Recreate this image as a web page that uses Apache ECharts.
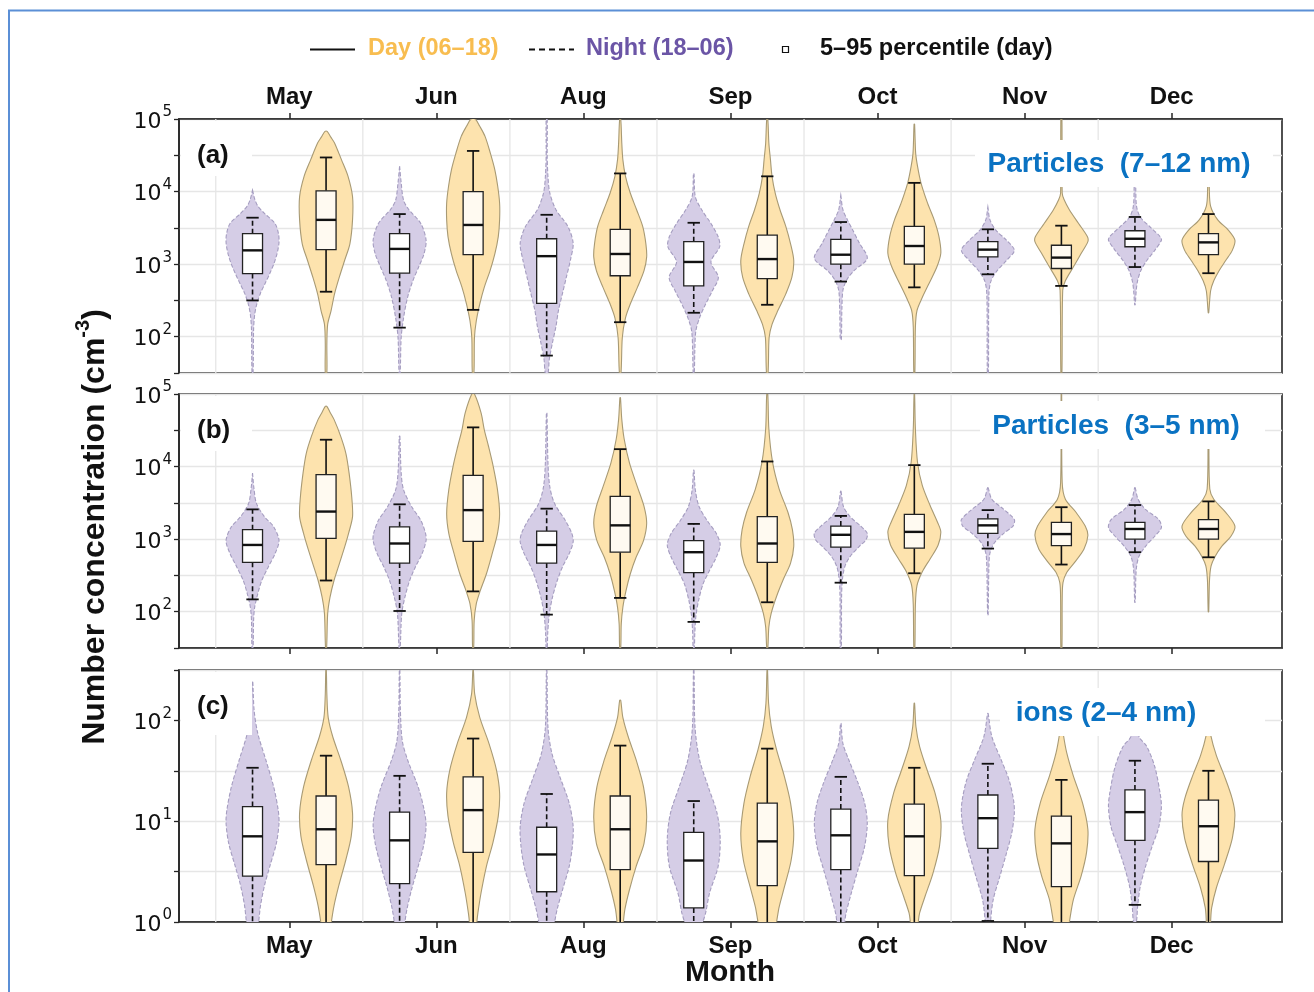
<!DOCTYPE html>
<html><head><meta charset="utf-8">
<script src="https://cdn.jsdelivr.net/npm/echarts@6/dist/echarts.min.js"></script>
<style>html,body{margin:0;padding:0;background:#fff}#c{width:1314px;height:992px}</style>
</head><body><div id="c"></div>
<script>
// ---------------- DATA (values are log10 of number concentration, cm^-3) ----------------
const months = ['May', 'Jun', 'Aug', 'Sep', 'Oct', 'Nov', 'Dec'];
const panelLetters = ['(a)', '(b)', '(c)'];
const panelTitles = ['Particles  (7\u201312 nm)', 'Particles  (3\u20135 nm)', 'ions (2\u20134 nm)'];
const yRangeA = [1.5, 5];
const yRangeB = [1.5, 5];
const yRangeC = [0, 2.5];

// box stats per month: [p5, q1, median, q3, p95]
const boxA_night = [[2.50,2.87,3.19,3.42,3.64],[2.125,2.875,3.21,3.42,3.69],[1.74,2.46,3.11,3.35,3.68],[2.33,2.70,3.03,3.31,3.57],[2.76,3.00,3.13,3.34,3.58],[2.86,3.10,3.20,3.31,3.48],[2.96,3.24,3.35,3.46,3.65]];
const boxA_day   = [[2.62,3.20,3.61,4.01,4.47],[2.37,3.13,3.54,4.00,4.56],[2.20,2.84,3.14,3.48,4.25],[2.44,2.80,3.07,3.40,4.21],[2.68,3.00,3.25,3.52,4.12],[2.70,2.94,3.09,3.26,3.53],[2.875,3.13,3.30,3.42,3.69]];
const boxB_night = [[2.17,2.68,2.92,3.13,3.41],[2.01,2.67,2.94,3.17,3.48],[1.96,2.67,2.92,3.11,3.42],[1.86,2.54,2.82,2.98,3.21],[2.40,2.89,3.06,3.18,3.32],[2.87,3.08,3.19,3.28,3.40],[2.82,3.00,3.14,3.23,3.47]];
const boxB_day   = [[2.43,3.01,3.38,3.89,4.37],[2.28,2.97,3.40,3.88,4.54],[2.19,2.82,3.19,3.59,4.24],[2.13,2.68,2.94,3.31,4.07],[2.53,2.875,3.10,3.34,4.02],[2.65,2.91,3.07,3.23,3.44],[2.75,3.00,3.14,3.27,3.52]];
const boxC_night = [[-0.2,0.455,0.85,1.145,1.53],[-0.2,0.38,0.81,1.09,1.45],[-0.2,0.30,0.67,0.94,1.27],[-0.2,0.14,0.61,0.89,1.20],[-0.2,0.52,0.86,1.12,1.44],[0.01,0.73,1.03,1.26,1.57],[0.17,0.81,1.09,1.31,1.60]];
const boxC_day   = [[-0.2,0.57,0.92,1.25,1.65],[-0.2,0.69,1.11,1.44,1.82],[-0.2,0.52,0.92,1.25,1.75],[-0.2,0.36,0.80,1.18,1.72],[-0.2,0.46,0.85,1.17,1.53],[-0.2,0.35,0.78,1.05,1.41],[-0.2,0.60,0.95,1.21,1.50]];

// violin profiles per month: [log10 value, relative density width], top to bottom
const violinA_night = [
 [[4.02,0],[3.90,0.08],[3.80,0.2],[3.70,0.45],[3.56,0.85],[3.42,0.98],[3.30,1.0],[3.15,0.93],[3.00,0.8],[2.87,0.65],[2.73,0.47],[2.60,0.3],[2.45,0.16],[2.30,0.08],[2.10,0.04],[1.5,0.02]],
 [[4.35,0],[4.12,0.06],[3.88,0.15],[3.75,0.35],[3.56,0.8],[3.33,1.0],[3.14,0.92],[2.96,0.72],[2.77,0.5],[2.54,0.3],[2.26,0.15],[1.99,0.06],[1.5,0.02]],
 [[5.0,0.02],[4.5,0.02],[4.2,0.05],[3.98,0.12],[3.75,0.35],[3.52,0.8],[3.29,1.0],[3.06,0.9],[2.83,0.75],[2.60,0.6],[2.37,0.45],[2.14,0.35],[1.92,0.22],[1.69,0.1],[1.5,0.05]],
 [[4.25,0.01],[3.93,0.06],[3.75,0.3],[3.56,0.65],[3.38,0.92],[3.24,0.98],[3.03,0.65],[2.82,0.93],[2.63,0.7],[2.45,0.45],[2.26,0.22],[2.08,0.08],[1.80,0.04],[1.5,0.02]],
 [[3.95,0],[3.75,0.08],[3.61,0.25],[3.47,0.45],[3.29,0.7],[3.08,1.0],[2.91,0.5],[2.78,0.22],[2.64,0.08],[2.36,0.04],[1.96,0.02]],
 [[3.79,0],[3.61,0.08],[3.47,0.3],[3.33,0.7],[3.19,1.0],[3.05,0.7],[2.91,0.35],[2.77,0.12],[2.59,0.04],[1.5,0.02]],
 [[4.3,0.01],[4.06,0.03],[3.80,0.06],[3.65,0.2],[3.52,0.55],[3.38,0.95],[3.33,1.0],[3.19,0.75],[3.05,0.45],[2.91,0.22],[2.77,0.1],[2.64,0.05],[2.44,0.01]]
];
const violinA_day = [
 [[4.83,0.04],[4.75,0.18],[4.67,0.32],[4.44,0.58],[4.21,0.83],[3.93,1.0],[3.61,1.0],[3.28,0.9],[3.05,0.7],[2.82,0.5],[2.59,0.32],[2.36,0.19],[2.17,0.06],[1.9,0.03],[1.5,0.03]],
 [[5.0,0.08],[4.9,0.25],[4.76,0.45],[4.53,0.65],[4.30,0.82],[4.07,0.93],[3.84,1.0],[3.61,1.0],[3.38,0.95],[3.14,0.82],[2.91,0.64],[2.68,0.42],[2.45,0.25],[2.22,0.12],[1.99,0.05],[1.5,0.03]],
 [[5.0,0.02],[4.67,0.06],[4.44,0.1],[4.21,0.2],[3.98,0.38],[3.75,0.62],[3.52,0.85],[3.28,0.97],[3.10,1.0],[2.91,0.9],[2.68,0.65],[2.45,0.38],[2.26,0.2],[1.99,0.08],[1.5,0.03]],
 [[5.0,0.02],[4.67,0.06],[4.44,0.12],[4.21,0.18],[3.98,0.3],[3.75,0.48],[3.52,0.7],[3.28,0.88],[3.05,1.0],[2.82,0.93],[2.59,0.7],[2.36,0.4],[2.17,0.18],[1.99,0.07],[1.5,0.03]],
 [[4.93,0.01],[4.53,0.05],[4.35,0.12],[4.12,0.25],[3.84,0.5],[3.61,0.75],[3.38,0.93],[3.15,1.0],[2.96,0.85],[2.73,0.55],[2.54,0.3],[2.36,0.1],[2.13,0.04],[1.5,0.02]],
 [[5.0,0.02],[3.98,0.03],[3.89,0.1],[3.75,0.3],[3.56,0.65],[3.38,0.98],[3.31,1.0],[3.15,0.75],[2.96,0.45],[2.77,0.15],[2.64,0.05],[1.5,0.02]],
 [[4.3,0.01],[4.06,0.03],[3.80,0.08],[3.61,0.35],[3.47,0.75],[3.33,1.0],[3.19,0.9],[3.05,0.65],[2.91,0.4],[2.77,0.2],[2.63,0.08],[2.33,0.01]]
];
const violinB_night = [
 [[3.91,0],[3.68,0.06],[3.49,0.15],[3.31,0.45],[3.17,0.8],[2.98,1.0],[2.80,0.85],[2.62,0.6],[2.43,0.35],[2.25,0.2],[2.06,0.08],[1.88,0.04],[1.5,0.02]],
 [[4.42,0.01],[3.91,0.06],[3.68,0.15],[3.45,0.45],[3.26,0.8],[3.08,0.98],[2.98,1.0],[2.80,0.85],[2.62,0.6],[2.43,0.38],[2.20,0.2],[1.97,0.08],[1.5,0.02]],
 [[4.74,0.01],[4.05,0.05],[3.72,0.12],[3.49,0.3],[3.26,0.7],[3.08,0.95],[2.96,1.0],[2.80,0.85],[2.62,0.6],[2.43,0.4],[2.20,0.22],[1.97,0.1],[1.70,0.04],[1.5,0.02]],
 [[3.95,0.01],[3.68,0.06],[3.45,0.2],[3.26,0.5],[3.08,0.85],[2.92,1.0],[2.75,0.85],[2.57,0.6],[2.38,0.35],[2.15,0.18],[1.93,0.08],[1.70,0.04],[1.5,0.02]],
 [[3.66,0.01],[3.45,0.1],[3.31,0.35],[3.18,0.75],[3.08,1.0],[2.99,0.95],[2.90,0.7],[2.76,0.35],[2.62,0.15],[2.44,0.06],[2.21,0.03],[1.5,0.02]],
 [[3.71,0.01],[3.55,0.15],[3.41,0.6],[3.27,1.0],[3.18,0.95],[3.08,0.6],[2.95,0.25],[2.81,0.08],[2.62,0.04],[1.95,0.01]],
 [[3.71,0.01],[3.55,0.12],[3.41,0.4],[3.27,0.9],[3.16,1.0],[3.04,0.75],[2.90,0.4],[2.76,0.15],[2.58,0.05],[2.13,0.01]]
];
const violinB_day = [
 [[4.83,0.03],[4.75,0.15],[4.65,0.3],[4.42,0.55],[4.18,0.75],[3.91,0.87],[3.58,0.97],[3.31,1.0],[3.08,0.85],[2.89,0.7],[2.66,0.5],[2.43,0.3],[2.20,0.15],[1.97,0.06],[1.5,0.02]],
 [[5.0,0.05],[4.74,0.3],[4.51,0.42],[4.28,0.58],[4.0,0.76],[3.68,0.92],[3.35,1.0],[3.08,0.92],[2.80,0.72],[2.52,0.5],[2.29,0.27],[2.11,0.12],[1.88,0.04],[1.5,0.02]],
 [[4.95,0.01],[4.65,0.06],[4.38,0.15],[4.05,0.35],[3.72,0.65],[3.45,0.9],[3.22,1.0],[2.98,0.88],[2.75,0.6],[2.52,0.38],[2.29,0.22],[2.06,0.1],[1.83,0.04],[1.5,0.02]],
 [[5.0,0.02],[4.52,0.06],[4.06,0.2],[3.69,0.45],[3.37,0.78],[3.13,0.95],[2.90,1.0],[2.67,0.88],[2.44,0.6],[2.21,0.35],[1.98,0.15],[1.79,0.06],[1.5,0.02]],
 [[5.0,0.01],[4.52,0.04],[4.06,0.12],[3.74,0.3],[3.46,0.6],[3.23,0.88],[3.10,1.0],[2.92,0.9],[2.73,0.6],[2.55,0.3],[2.36,0.1],[2.09,0.04],[1.5,0.02]],
 [[5.0,0.01],[3.78,0.03],[3.55,0.15],[3.37,0.55],[3.18,0.9],[3.05,1.0],[2.86,0.85],[2.68,0.5],[2.54,0.2],[2.40,0.06],[2.17,0.03],[1.5,0.02]],
 [[4.4,0.01],[3.69,0.05],[3.55,0.2],[3.37,0.65],[3.18,1.0],[3.04,0.85],[2.90,0.5],[2.76,0.25],[2.63,0.1],[2.44,0.04],[2.0,0.01]]
];
const violinC_night = [
 [[2.38,0.01],[2.10,0.06],[1.87,0.2],[1.61,0.5],[1.34,0.8],[1.11,0.97],[0.98,1.0],[0.78,0.9],[0.55,0.65],[0.36,0.45],[0.16,0.3],[0.0,0.23],[-0.2,0.1]],
 [[2.5,0.01],[2.10,0.03],[1.80,0.1],[1.61,0.3],[1.34,0.7],[1.11,0.93],[0.95,1.0],[0.75,0.9],[0.55,0.7],[0.32,0.45],[0.13,0.28],[0.0,0.2],[-0.2,0.1]],
 [[2.5,0.01],[1.93,0.05],[1.67,0.2],[1.44,0.5],[1.18,0.85],[0.95,1.0],[0.75,0.97],[0.55,0.85],[0.32,0.6],[0.13,0.4],[0.0,0.3],[-0.2,0.15]],
 [[2.5,0.01],[1.93,0.05],[1.61,0.22],[1.34,0.55],[1.08,0.88],[0.82,1.0],[0.55,0.92],[0.29,0.6],[0.09,0.45],[0.0,0.35],[-0.2,0.2]],
 [[1.97,0.01],[1.77,0.08],[1.61,0.3],[1.38,0.65],[1.18,0.9],[0.98,1.0],[0.75,0.9],[0.52,0.65],[0.29,0.4],[0.09,0.2],[0.0,0.15],[-0.2,0.07]],
 [[2.07,0.01],[1.84,0.15],[1.61,0.5],[1.41,0.8],[1.21,0.97],[1.08,1.0],[0.88,0.9],[0.68,0.7],[0.45,0.45],[0.22,0.2],[0.0,0.1],[-0.2,0.05]],
 [[2.05,0.01],[1.92,0.08],[1.83,0.17],[1.74,0.45],[1.54,0.75],[1.28,0.95],[1.14,1.0],[0.94,0.9],[0.75,0.65],[0.55,0.4],[0.35,0.2],[0.15,0.1],[0.0,0.05]]
];
const violinC_day = [
 [[2.5,0.01],[2.26,0.03],[2.03,0.08],[1.84,0.25],[1.61,0.55],[1.34,0.85],[1.08,1.0],[0.85,0.95],[0.62,0.75],[0.36,0.48],[0.16,0.3],[0.0,0.2],[-0.2,0.1]],
 [[2.5,0.01],[2.26,0.06],[2.03,0.25],[1.77,0.6],[1.51,0.88],[1.28,1.0],[1.05,0.95],[0.79,0.75],[0.55,0.5],[0.29,0.3],[0.09,0.18],[0.0,0.14],[-0.2,0.07]],
 [[2.20,0.02],[2.03,0.1],[1.84,0.3],[1.61,0.6],[1.34,0.88],[1.05,1.0],[0.78,0.9],[0.55,0.6],[0.32,0.35],[0.13,0.18],[0.0,0.12],[-0.2,0.06]],
 [[2.5,0.01],[2.17,0.05],[1.94,0.15],[1.71,0.35],[1.44,0.65],[1.18,0.88],[0.88,1.0],[0.61,0.9],[0.35,0.65],[0.15,0.45],[0.0,0.35],[-0.2,0.2]],
 [[2.17,0.01],[1.94,0.06],[1.74,0.2],[1.51,0.48],[1.28,0.78],[1.01,1.0],[0.75,0.95],[0.48,0.7],[0.25,0.4],[0.09,0.2],[0.0,0.15],[-0.2,0.07]],
 [[2.0,0.01],[1.85,0.08],[1.68,0.2],[1.45,0.45],[1.18,0.8],[0.92,1.0],[0.69,0.95],[0.46,0.75],[0.22,0.45],[0.0,0.3],[-0.2,0.15]],
 [[2.0,0.01],[1.86,0.08],[1.65,0.3],[1.45,0.6],[1.22,0.9],[1.06,1.0],[0.83,0.9],[0.57,0.6],[0.34,0.3],[0.14,0.12],[0.0,0.08],[-0.2,0.04]]
];

// ---------------- STYLE ----------------
const AX = '#262626';
const NIGHT_FILL = '#d5cde6', NIGHT_EDGE = '#a59dc0';
const DAY_FILL = '#fde3ae', DAY_EDGE = '#a89a74';
const DAY_TXT = '#f8bd50', NIGHT_TXT = '#6b55a6', TITLE_BLUE = '#0a72c2';
const VIOLIN_HALF = 0.18, BOX_HALF = 0.068, CAP_HALF = 0.042, OFFSET = 0.25;
const BOLD = 'Liberation Sans, Arial, sans-serif';

const monthIdx = months.map((m, i) => i);
const dividers = months.map((m, i) => i - 0.5);

function renderer(profiles, boxes, night) {
  return function (params, api) {
    const i = params.dataIndex;
    const cx = api.value(0) + (night ? -OFFSET : OFFSET);
    const prof = profiles[i], b = boxes[i];
    const pts = [];
    prof.forEach(p => pts.push(api.coord([cx + p[1] * VIOLIN_HALF, p[0]])));
    for (let k = prof.length - 1; k >= 0; k--) pts.push(api.coord([cx - prof[k][1] * VIOLIN_HALF, prof[k][0]]));
    const yy = v => api.coord([cx, v])[1];
    const xx = dx => api.coord([cx + dx, b[2]])[0];
    const xc = xx(0), xl = xx(-BOX_HALF), xr = xx(BOX_HALF), cl = xx(-CAP_HALF), cr = xx(CAP_HALF);
    const y5 = yy(b[0]), y25 = yy(b[1]), y50 = yy(b[2]), y75 = yy(b[3]), y95 = yy(b[4]);
    const wStyle = night ? { stroke: '#111', lineWidth: 1.6, lineDash: [5, 3] } : { stroke: '#111', lineWidth: 1.6 };
    const vStyle = night ? { fill: NIGHT_FILL, stroke: NIGHT_EDGE, lineWidth: 1.1, lineDash: [4, 2] } : { fill: DAY_FILL, stroke: DAY_EDGE, lineWidth: 1.1 };
    return {
      type: 'group', children: [
        { type: 'polygon', shape: { points: pts, smooth: 0.3 }, style: vStyle },
        { type: 'line', shape: { x1: xc, y1: y75, x2: xc, y2: y95 }, style: wStyle },
        { type: 'line', shape: { x1: xc, y1: y25, x2: xc, y2: y5 }, style: wStyle },
        { type: 'line', shape: { x1: cl, y1: y95, x2: cr, y2: y95 }, style: { stroke: '#111', lineWidth: 1.8 } },
        { type: 'line', shape: { x1: cl, y1: y5, x2: cr, y2: y5 }, style: { stroke: '#111', lineWidth: 1.8 } },
        { type: 'rect', shape: { x: xl, y: y75, width: xr - xl, height: y25 - y75 }, style: { fill: night ? '#ffffff' : '#fffaf1', stroke: '#222', lineWidth: 1.3 } },
        { type: 'line', shape: { x1: xl, y1: y50, x2: xr, y2: y50 }, style: { stroke: '#111', lineWidth: 2.4 } }
      ]
    };
  };
}

function dividerRender(params, api) {
  const x = api.coord([api.value(0), 0])[0];
  const cs = params.coordSys;
  return { type: 'line', shape: { x1: x, y1: cs.y, x2: x, y2: cs.y + cs.height }, style: { stroke: '#e6e6e6', lineWidth: 1.3 } };
}

const supRich = {
  b: { fontSize: 22, fontFamily: 'DejaVu Sans', color: '#111', lineHeight: 28, verticalAlign: 'bottom' },
  s: { fontSize: 15, fontFamily: 'DejaVu Sans', color: '#111', lineHeight: 28, verticalAlign: 'top', padding: [0, 0, 0, 1] }
};
function decadeLabel(v) {
  if (Math.abs(v - Math.round(v)) < 1e-6) return '{b|10}{s|' + Math.round(v) + '}';
  return '';
}

const grids = [
  { left: 179, top: 119, width: 1103, height: 254 },
  { left: 179, top: 394, width: 1103, height: 254 },
  { left: 179, top: 670, width: 1103, height: 252 }
].map(g => Object.assign(g, { show: true, borderColor: AX, borderWidth: 1.6, backgroundColor: '#fff' }));

function xAxisCfg(k, pos, showLabels, margin) {
  return {
    gridIndex: k, type: 'value', position: pos, min: -0.75, max: 6.75,
    axisLine: { show: true, onZero: false, lineStyle: { color: AX, width: 1.6 } },
    axisTick: { show: true, customValues: monthIdx, length: 6, lineStyle: { color: AX, width: 1.5 } },
    axisLabel: { show: showLabels, customValues: monthIdx, formatter: v => months[Math.round(v)], fontSize: 24, fontWeight: 'bold', fontFamily: BOLD, color: '#111', margin: margin },
    splitLine: { show: false }
  };
}
function yAxisCfg(k, range) {
  return {
    gridIndex: k, type: 'value', min: range[0], max: range[1], interval: 0.5,
    axisLine: { show: true, onZero: false, lineStyle: { color: AX, width: 1.6 } },
    axisTick: { show: true, length: 5, lineStyle: { color: AX, width: 1.3 } },
    axisLabel: { margin: 7, formatter: decadeLabel, rich: supRich },
    splitLine: { show: true, lineStyle: { color: '#e6e6e6', width: 1.3 } }
  };
}

const panels = [
  [violinA_night, boxA_night, violinA_day, boxA_day],
  [violinB_night, boxB_night, violinB_day, boxB_day],
  [violinC_night, boxC_night, violinC_day, boxC_day]
];
const series = [];
panels.forEach((p, k) => {
  series.push({ type: 'custom', xAxisIndex: k, yAxisIndex: k, z: 1, silent: true, renderItem: dividerRender, data: dividers.map(d => [d]), encode: { x: 0 } });
  series.push({ type: 'custom', name: 'Night (18\u201306)', xAxisIndex: k, yAxisIndex: k, z: 2, clip: true, silent: true, renderItem: renderer(p[0], p[1], true), data: monthIdx.map(i => [i, p[1][i][2]]), encode: { x: 0, y: 1 } });
  series.push({ type: 'custom', name: 'Day (06\u201318)', xAxisIndex: k, yAxisIndex: k, z: 2, clip: true, silent: true, renderItem: renderer(p[2], p[3], false), data: monthIdx.map(i => [i, p[3][i][2]]), encode: { x: 0, y: 1 } });
});

const LEG_FONT = 'bold 23.5px ' + BOLD;
const graphic = [
  { type: 'rect', z: 200, silent: true, shape: { x: 9, y: 10.5, width: 1400, height: 1100 }, style: { fill: 'none', stroke: '#5b8fd6', lineWidth: 2 } },
  // legend
  { type: 'line', z: 200, shape: { x1: 310, y1: 49.5, x2: 355, y2: 49.5 }, style: { stroke: '#111', lineWidth: 2.2 } },
  { type: 'text', z: 200, x: 368, y: 49, style: { text: 'Day (06\u201318)', fill: DAY_TXT, font: LEG_FONT, verticalAlign: 'middle' } },
  { type: 'line', z: 200, shape: { x1: 529, y1: 49.5, x2: 574, y2: 49.5 }, style: { stroke: '#111', lineWidth: 2, lineDash: [6, 4] } },
  { type: 'text', z: 200, x: 586, y: 49, style: { text: 'Night (18\u201306)', fill: NIGHT_TXT, font: LEG_FONT, verticalAlign: 'middle' } },
  { type: 'rect', z: 200, shape: { x: 782.5, y: 46.5, width: 6, height: 6 }, style: { fill: '#fff', stroke: '#111', lineWidth: 1.2 } },
  { type: 'text', z: 200, x: 820, y: 49, style: { text: '5\u201395 percentile (day)', fill: '#111', font: LEG_FONT, verticalAlign: 'middle' } },
  // y axis title
  { type: 'text', z: 200, x: 92, y: 527, rotation: Math.PI / 2, style: { text: '{a|Number concentration (cm}{s|-3}{a|)}', align: 'center', verticalAlign: 'middle', rich: { a: { font: 'bold 32px ' + BOLD, fill: '#111', lineHeight: 38, verticalAlign: 'bottom' }, s: { font: 'bold 20px ' + BOLD, fill: '#111', lineHeight: 38, verticalAlign: 'top' } } } },
  // x axis title
  { type: 'text', z: 200, x: 730, y: 973, style: { text: 'Month', fill: '#111', font: 'bold 30px ' + BOLD, align: 'center', verticalAlign: 'middle' } }
];
// panel letter boxes and titles
const letterBoxes = [[181, 121, 71, 55], [181, 396, 71, 55], [181, 672, 71, 63]];
const titleBoxes = [[975, 140, 298, 47], [980, 401, 285, 48], [1000, 688, 265, 48]];
const titleCenters = [1119, 1116, 1106];
panelLetters.forEach((t, k) => {
  const lb = letterBoxes[k], tb = titleBoxes[k];
  graphic.push({ type: 'rect', z: 150, shape: { x: lb[0], y: lb[1], width: lb[2], height: lb[3] }, style: { fill: '#fff' } });
  graphic.push({ type: 'text', z: 160, x: 197, y: grids[k].top + 37, style: { text: t, fill: '#111', font: 'bold 26px ' + BOLD, verticalAlign: 'middle' } });
  graphic.push({ type: 'rect', z: 150, shape: { x: tb[0], y: tb[1], width: tb[2], height: tb[3] }, style: { fill: '#fff' } });
  graphic.push({ type: 'text', z: 160, x: titleCenters[k], y: tb[1] + tb[3] / 2 + 1, style: { text: panelTitles[k], fill: TITLE_BLUE, font: 'bold 28px ' + BOLD, align: 'center', verticalAlign: 'middle' } });
});

const chart = echarts.init(document.getElementById('c'), null, { renderer: 'canvas' });
chart.setOption({
  animation: false,
  backgroundColor: '#fff',
  textStyle: { fontFamily: BOLD },
  grid: grids,
  xAxis: [xAxisCfg(0, 'top', true, 10), xAxisCfg(1, 'bottom', false, 10), xAxisCfg(2, 'bottom', true, 12)],
  yAxis: [yAxisCfg(0, yRangeA), yAxisCfg(1, yRangeB), yAxisCfg(2, yRangeC)],
  series: series,
  graphic: graphic
});
</script>
</body></html>
